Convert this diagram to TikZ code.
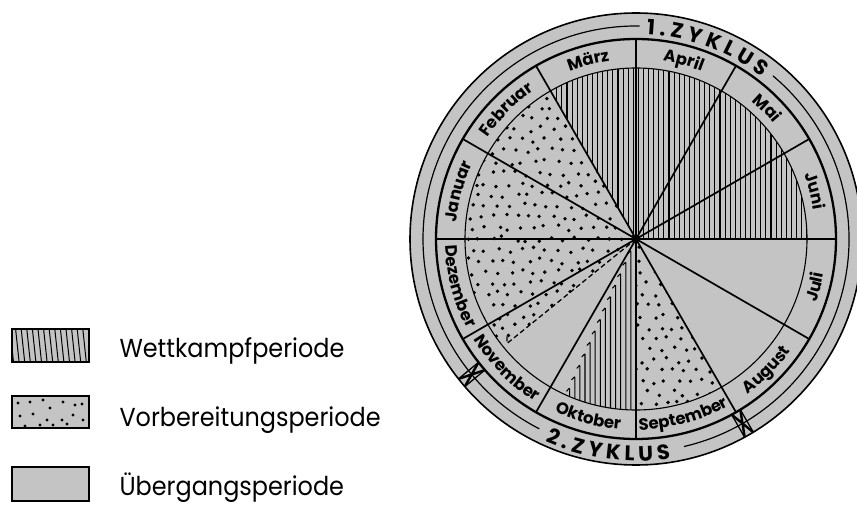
\documentclass[tikz,border=0pt]{standalone}
\usepackage{fontspec}
\usepackage{graphicx}
\setmainfont{Poppins}
\usetikzlibrary{decorations.text}
\definecolor{diskgray}{RGB}{196,196,196}
\newcommand\monthfnt{\fontsize{16.5}{16.5}\selectfont\bfseries}
\newcommand\zykfnt{\fontsize{21}{21}\selectfont\bfseries}
\newcommand\legfnt{\fontsize{26}{26}\selectfont}
\tikzset{
  hatchline/.style={line width=1.05pt},
  radline/.style={line width=1.7pt},
  lgbox/.style={draw, line width=1.6pt, fill=diskgray},
  lgtext/.style={anchor=base west, font=\legfnt},
}
\newcommand\upperlabel[2]{\path[decorate,decoration={text along path,text align=center,text={|\monthfnt|#2}}]
    (#1+25:180) arc[start angle=#1+25,end angle=#1-25,radius=180];}
\newcommand\lowerlabel[2]{\path[decorate,decoration={text along path,text align=center,text={|\monthfnt|#2}}]
    (#1-25:191) arc[start angle=#1-25,end angle=#1+25,radius=191];}
\newcommand\zmark[1]{\begin{scope}[rotate=#1]
  \draw[line width=1.3pt] (200,-5) -- (226,-5) (200,5) -- (226,5);
  \draw[line width=2.4pt] (200,-5) -- (226,5) (200,5) -- (226,-5);
\end{scope}}
\begin{document}
\begin{tikzpicture}[x=1pt,y=1pt]
\useasboundingbox (0,0) rectangle (857,504);
\begin{scope}[shift={(636,265)}]
 \fill[diskgray] (0,0) circle[radius=226];
 % dotted regions (Vorbereitungsperiode)
 \begin{scope}
  \clip (0,0) -- (120:171) arc[start angle=120,end angle=219,radius=171] -- cycle
        (0,0) -- (270:171) arc[start angle=270,end angle=300,radius=171] -- cycle;
  \pgfmathsetseed{42}
  \foreach \i in {-15,...,15}{\foreach \j in {-16,...,16}{
    \pgfmathsetmacro\px{\i*12+6*mod(\j,2)+3*rand}
    \pgfmathsetmacro\py{\j*11+3*rand}
    \fill (\px,\py) circle[radius=1.9];
  }}
 \end{scope}
 % hatched region (Wettkampfperiode, 1. Zyklus)
 \begin{scope}
  \clip (0,0) -- (0:171) arc[start angle=0,end angle=120,radius=171] -- cycle;
  \foreach \k in {0,...,68} \draw[hatchline] (\k*5.1-171,-2) -- ++(0,176);
 \end{scope}
 % hatched region (Wettkampfperiode, 2. Zyklus)
 \foreach \k in {1,...,13}{
   \pgfmathsetmacro\dd{\k*5.1}
   \pgfmathsetmacro\yt{-2.246*\dd}
   \pgfmathsetmacro\yb{-171*sqrt(1-(\dd/171)^2)}
   \draw[hatchline, rounded corners=0.8pt] (-\dd-3.2,\yt-3.4) -- (-\dd,\yt) -- (-\dd,\yb);
 }
 % circles
 \draw[line width=1.6pt] (0,0) circle[radius=226];
 \draw[line width=1.2pt] (89:213) arc[start angle=89,end angle=243,radius=213];
 \draw[line width=1.2pt] (283:213) arc[start angle=283,end angle=410,radius=213];
 \draw[line width=2.3pt] (0,0) circle[radius=200];
 \draw[line width=1.1pt] (0,0) circle[radius=171];
 % radial month lines
 \foreach \a in {0,30,...,330} \draw[radline] (0,0) -- (\a:200);
 \fill (0,0) circle[radius=3.2];
 % dashed line
 \draw[line width=1.3pt, dash pattern=on 5pt off 3pt] (0,0) -- (219:166) -- ++(0,10);
 % cycle marks
 \zmark{219.5}
 \zmark{300}
 % month labels
 \upperlabel{105}{März}
 \upperlabel{75}{April}
 \upperlabel{45}{Mai}
 \upperlabel{15}{Juni}
 \upperlabel{135}{Februar}
 \upperlabel{165}{Januar}
 \lowerlabel{345}{Juli}
 \lowerlabel{315}{August}
 \lowerlabel{285}{September}
 \lowerlabel{255}{Oktober}
 \lowerlabel{225}{November}
 \lowerlabel{195}{Dezember}
 % cycle labels
 \path[decorate,decoration={text along path,text align={fit to path},text={|\zykfnt|1.ZYKLUS}}]
   (87:205) arc[start angle=87,end angle=52,radius=205];
 \path[decorate,decoration={text along path,text align={fit to path},text={|\zykfnt|2.ZYKLUS}}]
   (246:222) arc[start angle=246,end angle=279,radius=222];
\end{scope}
% legend
\node[lgbox, minimum width=77pt, minimum height=33pt, inner sep=0pt] (b1) at (50.5,158.5) {};
\begin{scope}
 \clip (12,142) rectangle (89,175);
 \foreach \k in {0,...,15} \draw[line width=1pt] (10+\k*5.6,175) -- ++(3.5,-33);
\end{scope}
\draw[line width=1.6pt] (12,142) rectangle (89,175);
\node[lgbox, minimum width=77pt, minimum height=32pt, inner sep=0pt] (b2) at (50.5,92) {};
\foreach \p in {(18,101),(30,102),(43,104),(50,96),(63,102),(75,99),(82,100),(20,88),(33,90),(47,84),(62,84),(73,89),(83,84),(25,78),(40,79),(53,79),(67,80)}
  \fill \p circle[radius=1.6];
\node[lgbox, minimum width=77pt, minimum height=34pt, inner sep=0pt] (b3) at (50.5,20) {};
\node[lgtext] (t1) at (116,147) {\scalebox{0.92}[1]{Wettkampfperiode}};
\node[lgtext] (t2) at (116,78) {\scalebox{0.92}[1]{Vorbereitungsperiode}};
\node[lgtext] (t3) at (116,9) {\scalebox{0.92}[1]{Übergangsperiode}};
\end{tikzpicture}
\end{document}
